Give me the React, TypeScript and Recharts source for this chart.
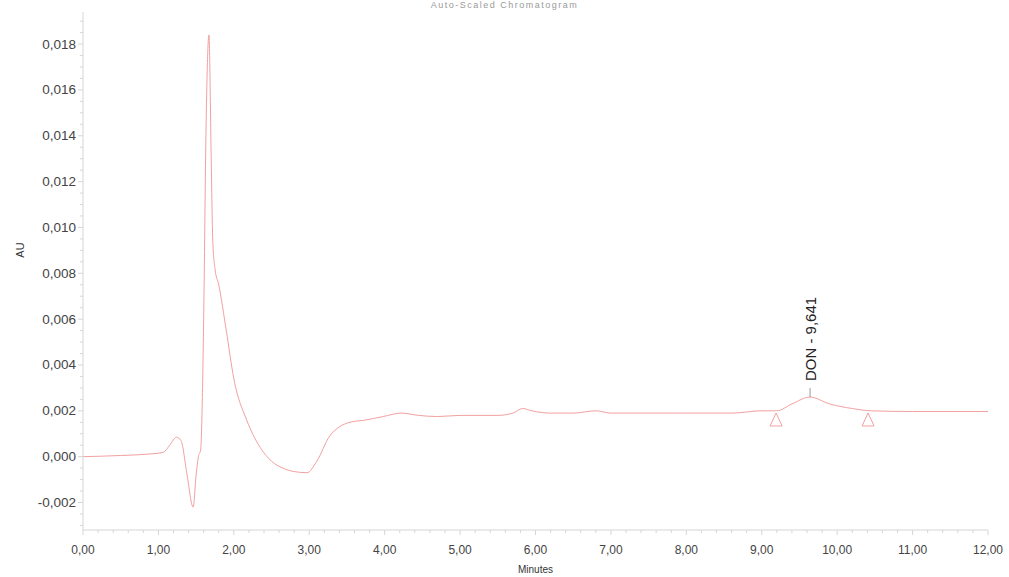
import React from 'react';
import { ComposedChart, Line, XAxis, YAxis, ReferenceDot } from 'recharts';

// Chromatogram trace: retention time (minutes) vs absorbance (AU)
const times = [
  0.0, 0.5, 0.9, 1.06, 1.15, 1.24, 1.3, 1.38, 1.46, 1.5, 1.53, 1.56, 1.6, 1.63, 1.67, 1.7, 1.72, 1.75, 1.8,
  1.9, 2.0, 2.17, 2.35, 2.5, 2.65, 2.8, 2.97, 3.1, 3.27, 3.4, 3.54, 3.75, 3.98, 4.22, 4.45, 4.7, 5.0, 5.5,
  5.7, 5.83, 5.95, 6.2, 6.5, 6.8, 7.0, 7.5, 8.0, 8.6, 9.0, 9.2, 9.4, 9.64, 9.9, 10.2, 10.45, 11.0, 12.0,
];
const absorbance = [
  0.0, 0.00005, 0.00012, 0.00018, 0.0005, 0.00085, 0.0007, -0.0008, -0.0022, -0.0008, 0.0, 0.0003, 0.006,
  0.014, 0.0184, 0.013, 0.0095, 0.0082, 0.0075, 0.0055, 0.0034, 0.0016, 0.0004, -0.0002, -0.0005, -0.00065,
  -0.0007, -0.0002, 0.0009, 0.0013, 0.0015, 0.0016, 0.00175, 0.0019, 0.0018, 0.00175, 0.0018, 0.0018,
  0.0019, 0.0021, 0.002, 0.0019, 0.0019, 0.002, 0.0019, 0.0019, 0.0019, 0.0019, 0.002, 0.002, 0.0023,
  0.0026, 0.0023, 0.0021, 0.002, 0.00197, 0.00197,
];

// Integration markers (peak start / end) and the labelled peak
const markerTimes = [9.19, 10.41];
const markerValues = [0.0016, 0.0016];
const peakName = 'DON';
const peakTime = 9.641;
const peakValue = 0.0026;

const xMajorTicks = [0, 1, 2, 3, 4, 5, 6, 7, 8, 9, 10, 11, 12];
const xMinorTicks = Array.from({ length: 61 }, (_, i) => i * 0.2);
const yMajorTicks = [-0.002, 0.0, 0.002, 0.004, 0.006, 0.008, 0.01, 0.012, 0.014, 0.016, 0.018];
const yMinorTicks = Array.from({ length: 45 }, (_, i) => -0.003 + i * 0.0005);

const title = 'Auto-Scaled Chromatogram';

const trace = times.map((t, i) => ({ t, v: absorbance[i] }));

const TRACE = '#f2a0a0';
const FRAME = '#d6d6d6';
const TEXT = '#444';

const isMajor = (list: number[], v: number) => list.some((m) => Math.abs(m - v) < 1e-9);
const fmt = (v: number, d: number) => v.toFixed(d).replace('.', ',').replace('-0,000', '0,000');

const XTick = (props: any) => {
  const { x, y, payload } = props;
  const major = isMajor(xMajorTicks, payload.value);
  return (
    <g>
      <line x1={x} x2={x} y1={y} y2={y + (major ? 5 : 3)} stroke={FRAME} />
      {major && (
        <text x={x} y={y + 24} textAnchor="middle" fontSize={12} fill={TEXT} fontFamily="Arial, Liberation Sans, sans-serif">
          {fmt(payload.value, 2)}
        </text>
      )}
    </g>
  );
};

const YTick = (props: any) => {
  const { x, y, payload } = props;
  const major = isMajor(yMajorTicks, payload.value);
  return (
    <g>
      <line x1={x - (major ? 5 : 3)} x2={x} y1={y} y2={y} stroke={FRAME} />
      {major && (
        <text x={x - 7} y={y + 4.5} textAnchor="end" fontSize={13.5} fill={TEXT} fontFamily="Arial, Liberation Sans, sans-serif">
          {fmt(payload.value, 3)}
        </text>
      )}
    </g>
  );
};

const Triangle = (props: any) => {
  const { cx, cy } = props;
  return (
    <polygon
      points={`${cx},${cy - 7} ${cx - 6},${cy + 6} ${cx + 6},${cy + 6}`}
      fill="none"
      stroke={TRACE}
      strokeWidth={1}
    />
  );
};

const PeakLabel = (props: any) => {
  const { cx, cy } = props;
  return (
    <g>
      <line x1={cx} x2={cx} y1={cy} y2={cy - 9} stroke="#999" />
      <text
        transform={`translate(${cx + 5.5}, ${cy - 16}) rotate(-90)`}
        fontSize={15}
        fill="#222"
        fontFamily="Arial, Liberation Sans, sans-serif"
      >
        {`${peakName} - ${fmt(peakTime, 3)}`}
      </text>
    </g>
  );
};

export default function App() {
  return (
    <div style={{ position: 'absolute', left: 0, top: 0, width: 1009, height: 577, background: '#fff', overflow: 'hidden' }}>
      <div
        style={{
          position: 'absolute',
          top: 0,
          left: 0,
          width: 1009,
          textAlign: 'center',
          fontSize: 9,
          lineHeight: '10px',
          color: '#9a9a9a',
          fontFamily: 'Arial, Liberation Sans, sans-serif',
          letterSpacing: 1.5,
        }}
      >
        {title}
      </div>
      <ComposedChart width={1009} height={577} margin={{ top: 12, right: 21, bottom: 2, left: 0 }}>
        <XAxis
          dataKey="t"
          type="number"
          domain={[0, 12]}
          ticks={xMinorTicks}
          interval={0}
          tickSize={0}
          tickMargin={0}
          tick={<XTick />}
          tickLine={false}
          axisLine={{ stroke: FRAME }}
          height={45}
          allowDataOverflow
          label={{ value: 'Minutes', position: 'insideBottom', offset: 2, fontSize: 10, fill: '#333', fontFamily: 'Arial, Liberation Sans, sans-serif' }}
        />
        <XAxis xAxisId="top" orientation="top" type="number" domain={[0, 12]} height={0} tick={false} tickLine={false} axisLine={{ stroke: FRAME }} />
        <YAxis
          type="number"
          domain={[-0.0032, 0.0194]}
          ticks={yMinorTicks}
          interval={0}
          tickSize={0}
          tickMargin={0}
          tick={<YTick />}
          tickLine={false}
          axisLine={{ stroke: FRAME }}
          width={83}
          allowDataOverflow
          label={(p: any) => {
            const vb = p.viewBox;
            return (
              <text
                transform={`translate(${vb.x + 24}, ${vb.y + vb.height / 2 - 21}) rotate(-90)`}
                textAnchor="middle"
                fontSize={11}
                fill="#333"
                fontFamily="Arial, Liberation Sans, sans-serif"
              >
                AU
              </text>
            );
          }}
        />
        <YAxis yAxisId="right" orientation="right" type="number" domain={[0, 1]} width={0} tick={false} tickLine={false} axisLine={{ stroke: FRAME }} />
        <Line
          data={trace}
          dataKey="v"
          type="monotone"
          stroke={TRACE}
          strokeWidth={1}
          dot={false}
          activeDot={false}
          isAnimationActive={false}
        />
        {markerTimes.map((t, i) => (
          <ReferenceDot key={i} x={t} y={markerValues[i]} r={6} shape={<Triangle />} />
        ))}
        <ReferenceDot x={peakTime} y={peakValue} r={1} shape={<PeakLabel />} />
      </ComposedChart>
    </div>
  );
}
